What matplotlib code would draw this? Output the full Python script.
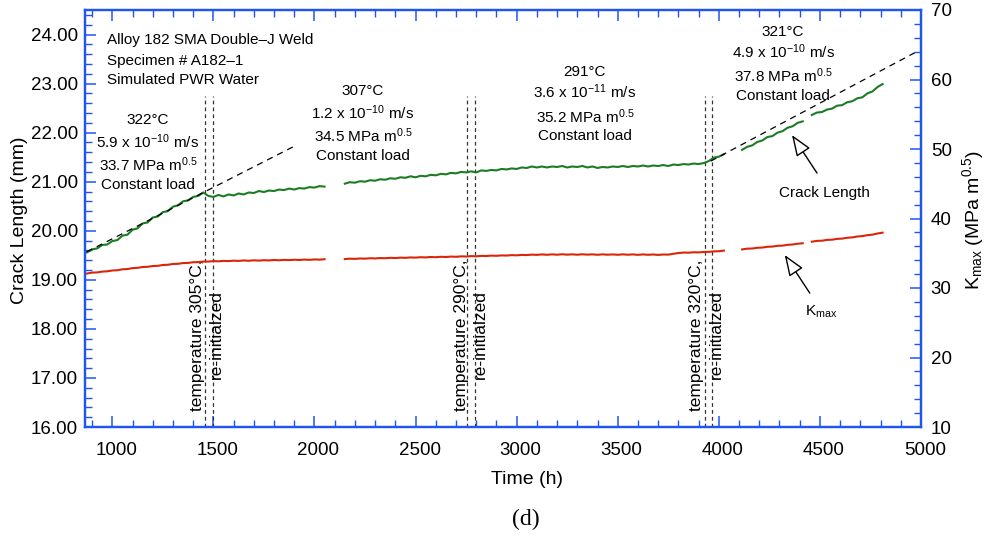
import numpy as np
import matplotlib
matplotlib.use('Agg')
import matplotlib.pyplot as plt
from matplotlib.ticker import MultipleLocator, FormatStrFormatter
from matplotlib.transforms import ScaledTranslation

plt.rcParams['font.family'] = ['Liberation Sans', 'DejaVu Sans']
plt.rcParams['mathtext.fontset'] = 'custom'
plt.rcParams['mathtext.rm'] = 'Liberation Sans'
plt.rcParams['mathtext.it'] = 'Liberation Sans:italic'
plt.rcParams['mathtext.bf'] = 'Liberation Sans:bold'

# ---------------- data ----------------
step_h = 25
seg_start = [875, 2150, 4115, 4460]

crack_a = [19.56, 19.62, 19.64, 19.71, 19.72, 19.79, 19.81, 19.90, 19.92, 20.02,
           20.05, 20.15, 20.17, 20.27, 20.29, 20.38, 20.40, 20.49, 20.52, 20.60,
           20.62, 20.69, 20.71, 20.78, 20.71, 20.69, 20.73, 20.70, 20.74, 20.72,
           20.76, 20.74, 20.78, 20.77, 20.81, 20.79, 20.82, 20.81, 20.84, 20.83,
           20.86, 20.84, 20.87, 20.86, 20.89, 20.88, 20.91, 20.90]
crack_b = [20.96, 20.99, 20.98, 21.01, 21.00, 21.03, 21.02, 21.05, 21.04, 21.07,
           21.06, 21.09, 21.08, 21.11, 21.09, 21.12, 21.11, 21.14, 21.13, 21.16,
           21.15, 21.18, 21.17, 21.20, 21.19, 21.21, 21.19, 21.23, 21.22, 21.24,
           21.23, 21.26, 21.25, 21.27, 21.26, 21.29, 21.28, 21.31, 21.29,
           21.31, 21.29, 21.31, 21.30, 21.32, 21.29, 21.31, 21.30, 21.32, 21.29,
           21.31, 21.28, 21.30, 21.29, 21.31, 21.30, 21.32, 21.30, 21.32, 21.31,
           21.33, 21.31, 21.33, 21.32,
           21.34, 21.32, 21.35, 21.34, 21.36, 21.35, 21.37, 21.36, 21.38, 21.42,
           21.49, 21.51, 21.56]
crack_c = [21.65, 21.71, 21.74, 21.81, 21.84, 21.91, 21.93, 22.00, 22.03, 22.10,
           22.13, 22.20, 22.23]
crack_d = [22.36, 22.41, 22.42, 22.47, 22.49, 22.55, 22.56, 22.62, 22.64, 22.70,
           22.72, 22.80, 22.84, 22.93, 22.99]

kmax_a = [32.08, 32.22, 32.24, 32.36, 32.40, 32.52, 32.55, 32.69, 32.73, 32.86,
          32.90, 33.02, 33.05, 33.16, 33.19, 33.31, 33.34, 33.46, 33.48, 33.59,
          33.61, 33.71, 33.72, 33.81, 33.80, 33.87, 33.84, 33.90, 33.87, 33.93,
          33.90, 33.96, 33.92, 33.98, 33.94, 34.00, 33.97, 34.03, 33.99, 34.05,
          34.01, 34.07, 34.03, 34.09, 34.05, 34.11, 34.08, 34.14]
kmax_b = [34.16, 34.22, 34.19, 34.25, 34.22, 34.28, 34.25, 34.31, 34.28, 34.34,
          34.31, 34.37, 34.34, 34.40, 34.37, 34.43, 34.40, 34.46, 34.43, 34.49,
          34.46, 34.52, 34.49, 34.55, 34.53, 34.59, 34.56, 34.62, 34.60, 34.66,
          34.63, 34.69, 34.67, 34.73, 34.70, 34.76, 34.74, 34.80, 34.77,
          34.83, 34.78, 34.84, 34.79, 34.85, 34.80, 34.84, 34.79, 34.85, 34.80,
          34.84, 34.78, 34.84, 34.79, 34.83, 34.78, 34.84, 34.79, 34.83, 34.77,
          34.83, 34.78, 34.82, 34.76,
          34.82, 34.80, 34.92, 35.03, 35.10, 35.08, 35.14, 35.12, 35.19, 35.20,
          35.27, 35.29, 35.38]
kmax_c = [35.55, 35.66, 35.68, 35.79, 35.82, 35.93, 35.96, 36.07, 36.10, 36.21,
          36.26, 36.37, 36.44]
kmax_d = [36.66, 36.78, 36.80, 36.92, 36.95, 37.07, 37.11, 37.23, 37.28, 37.41,
          37.47, 37.60, 37.68, 37.84, 37.96]

crack_segments = [crack_a, crack_b, crack_c, crack_d]
kmax_segments = [kmax_a, kmax_b, kmax_c, kmax_d]

fit1_t = [873, 1894]
fit1_len = [19.57, 21.71]
fit2_t = [3960, 4974]
fit2_len = [21.42, 23.64]

event_t = [1460, 1500, 2755, 2795, 3930, 3968]
event_top = 22.75

x_ticks = [1000, 1500, 2000, 2500, 3000, 3500, 4000, 4500, 5000]

header = ['Alloy 182 SMA Double\u2013J Weld', 'Specimen # A182\u20131', 'Simulated PWR Water']
blocks = [
    ['322\u00b0C', r'5.9 x 10$^{-10}$ m/s', r'33.7 MPa m$^{0.5}$', 'Constant load'],
    ['307\u00b0C', r'1.2 x 10$^{-10}$ m/s', r'34.5 MPa m$^{0.5}$', 'Constant load'],
    ['291\u00b0C', r'3.6 x 10$^{-11}$ m/s', r'35.2 MPa m$^{0.5}$', 'Constant load'],
    ['321\u00b0C', r'4.9 x 10$^{-10}$ m/s', r'37.8 MPa m$^{0.5}$', 'Constant load'],
]
event_labels = [('temperature 305\u00b0C,', 're-initialzed'),
                ('temperature 290\u00b0C,', 're-initialzed'),
                ('temperature 320\u00b0C,', 're-initialzed')]

# ---------------- style ----------------
BLUE = '#1f55f2'
GREEN = '#1b7d23'
RED = '#d9260a'

fig = plt.figure(figsize=(9.9, 5.4), dpi=100)
ax = fig.add_axes([85 / 990, (540 - 427) / 540, 836 / 990, 417 / 540])
ax2 = ax.twinx()

for t0, vals in zip(seg_start, crack_segments):
    t = t0 + step_h * np.arange(len(vals))
    ax.plot(t, vals, color=GREEN, lw=1.5, zorder=3)
for t0, vals in zip(seg_start, kmax_segments):
    t = t0 + step_h * np.arange(len(vals))
    ax2.plot(t, vals, color=RED, lw=1.5, zorder=3)

ax.plot(fit1_t, fit1_len, color='black', lw=0.9, ls=(0, (5, 4)), zorder=4)
ax.plot(fit2_t, fit2_len, color='black', lw=0.9, ls=(0, (5, 4)), zorder=4)
ax.vlines(event_t, 16, event_top, colors='#333333', lw=0.9,
          linestyles=(0, (3, 2.5)), zorder=2)

ax.set_xlim(865, 5000)
ax.set_ylim(16, 24.5)
ax2.set_ylim(10, 70)
ax.set_xticks(x_ticks)
ax.xaxis.set_minor_locator(MultipleLocator(100))
ax.yaxis.set_major_locator(MultipleLocator(1))
ax.yaxis.set_minor_locator(MultipleLocator(0.2))
ax.yaxis.set_major_formatter(FormatStrFormatter('%.2f'))
ax2.yaxis.set_major_locator(MultipleLocator(10))
ax2.yaxis.set_minor_locator(MultipleLocator(2))

ax.tick_params(axis='x', which='both', direction='in', top=True, bottom=True,
               color=BLUE, labelcolor='black', labelsize=13.5, pad=11)
ax.tick_params(axis='y', which='both', direction='in', left=True, right=False,
               color=BLUE, labelcolor='black', labelsize=13.5, pad=5)
ax2.tick_params(axis='y', which='both', direction='in', right=True, left=False,
                color=BLUE, labelcolor='black', labelsize=13.5, pad=7)
for a in (ax, ax2):
    a.tick_params(which='major', length=8, width=1.1)
    a.tick_params(which='minor', length=5, width=1.0)
    for s in a.spines.values():
        s.set_color(BLUE)
        s.set_linewidth(1.6)

off = ScaledTranslation(4 / 100, 0, fig.dpi_scale_trans)
for lab in ax.get_xticklabels():
    lab.set_transform(lab.get_transform() + off)

# axis labels
fig.text(20 / 990, (540 - 220) / 540, 'Crack Length (mm)', rotation=90,
         ha='center', va='center', fontsize=14)
fig.text(973 / 990, (540 - 220) / 540, r'K$_{\rm max}$ (MPa m$^{0.5}$)', rotation=90,
         ha='center', va='center', fontsize=14)
fig.text(527 / 990, (540 - 480) / 540, 'Time (h)', ha='center', va='center', fontsize=14)
fig.text(526 / 990, (540 - 519) / 540, '(d)', ha='center', va='center', fontsize=17,
         family='Liberation Serif')

# annotations
tr = ax.transAxes
for s, fy in zip(header, [0.9173, 0.8693, 0.8237]):
    ax.text(0.0263, fy, s, transform=tr, ha='left', va='baseline', fontsize=11)

block_x = [0.0754, 0.3325, 0.598, 0.835]
block_y = [[0.7278, 0.6679, 0.6151, 0.5719],
           [0.7950, 0.7398, 0.6823, 0.6391],
           [0.8429, 0.7878, 0.7302, 0.6871],
           [0.9365, 0.8837, 0.8285, 0.7830]]
for lines, bx, bys in zip(blocks, block_x, block_y):
    for s, by in zip(lines, bys):
        ax.text(bx, by, s, transform=tr, ha='center', va='baseline', fontsize=11)

ev_x = [(0.1348, 0.1575), (0.4506, 0.4725), (0.7317, 0.7557)]
for (l1, l2), (x1, x2) in zip(event_labels, ev_x):
    ax.text(x1, 0.2206, l1, transform=tr, rotation=90, ha='center', va='center', fontsize=12.5)
    ax.text(x2, 0.2206, l2, transform=tr, rotation=90, ha='center', va='center', fontsize=12.5)

ax.text(0.885, 0.5504, 'Crack Length', transform=tr, ha='center', va='baseline', fontsize=11)
ax.text(0.880, 0.267, r'K$_{\rm max}$', transform=tr, ha='center', va='baseline', fontsize=11)

arrow_kw = dict(arrowstyle='-|>,head_length=1.3,head_width=0.5', fc='white', ec='black',
                lw=1.0, shrinkA=0, shrinkB=0, mutation_scale=10)
ax.annotate('', xy=(0.8457, 0.700), xytext=(0.8756, 0.609), xycoords='axes fraction',
            textcoords='axes fraction', arrowprops=arrow_kw)
ax.annotate('', xy=(0.837, 0.4125), xytext=(0.867, 0.321), xycoords='axes fraction',
            textcoords='axes fraction', arrowprops=arrow_kw)

fig.savefig('out.png', dpi=100)
